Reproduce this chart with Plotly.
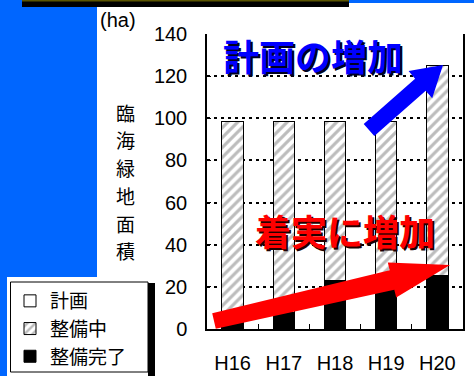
import plotly.graph_objects as go

# ---- data ----
years = ["H16", "H17", "H18", "H19", "H20"]
total_area = [98.5, 98.5, 98.5, 98.5, 125]      # top of each bar (ha)
completed = [3, 8, 23, 24, 25.5]                # 整備完了 (ha)
planned_extra = [0, 0, 0, 0, 0]                 # 計画 (no white part visible)
y_ticks = [0, 20, 40, 60, 80, 100, 120, 140]
y_title = "臨海緑地面積"

in_progress = [t - c for t, c in zip(total_area, completed)]

W, H = 474, 376
L, R, T, B = 207, 11, 34, 47
PW, PH = W - L - R, H - T - B


def px(x):
    return (x - L) / PW


def py(y):
    return (H - B - y) / PH


JP = "Noto Sans CJK JP"
NUM = "Liberation Sans"

fig = go.Figure()
fig.add_trace(go.Bar(
    x=years, y=completed, name="整備完了",
    marker=dict(color="black", line=dict(color="black", width=1)),
))
fig.add_trace(go.Bar(
    x=years, y=in_progress, name="整備中",
    marker=dict(color="white", line=dict(color="black", width=1),
                pattern=dict(shape="/", fgcolor="#7a7a7a", bgcolor="white",
                             size=7, solidity=0.45)),
))
fig.add_trace(go.Bar(
    x=years, y=planned_extra, name="計画",
    marker=dict(color="white", line=dict(color="black", width=1)),
))


def poly(points):
    d = "M " + " L ".join(f"{px(a):.5f},{py(b):.5f}" for a, b in points) + " Z"
    return d


shapes = [
    # blue background blocks
    dict(type="rect", xref="paper", yref="paper", x0=px(0), x1=px(97), y0=py(277), y1=py(0),
         fillcolor="#0066FF", line=dict(width=0), layer="below"),
    dict(type="rect", xref="paper", yref="paper", x0=px(0), x1=px(7), y0=py(376), y1=py(277),
         fillcolor="#0066FF", line=dict(width=0), layer="below"),
    dict(type="rect", xref="paper", yref="paper", x0=px(349), x1=px(474), y0=py(3), y1=py(0),
         fillcolor="#0066FF", line=dict(width=0), layer="below"),
    # black top bar
    dict(type="rect", xref="paper", yref="paper", x0=px(22), x1=px(349), y0=py(7), y1=py(0),
         fillcolor="black", line=dict(width=0), layer="below"),
    dict(type="rect", xref="paper", yref="paper", x0=px(22), x1=px(349), y0=py(1.5), y1=py(0),
         fillcolor="#5a5400", line=dict(width=0), layer="below"),
    # legend shadow + legend box
    dict(type="rect", xref="paper", yref="paper", x0=px(148), x1=px(155), y0=py(376), y1=py(283),
         fillcolor="black", line=dict(width=0), layer="above"),
    dict(type="rect", xref="paper", yref="paper", x0=px(10.5), x1=px(148), y0=py(372), y1=py(282),
         fillcolor="white", line=dict(width=1, color="black"), layer="above"),
    # blue arrow
    dict(type="path", xref="paper", yref="paper", layer="above",
         path=poly([(363.7, 124), (415.1, 78.7), (408.6, 71.1), (443, 65),
                    (432.2, 98.3), (425.7, 90.7), (374.3, 136)]),
         fillcolor="#0000FF", line=dict(width=0)),
    # red arrow
    dict(type="path", xref="paper", yref="paper", layer="above",
         path=poly([(212.2, 313.2), (389.7, 270.3), (387.8, 262.5), (450, 265),
                    (396.2, 297.5), (394.3, 289.7), (215.8, 328.8)]),
         fillcolor="#FF0000", line=dict(width=0)),
]

annotations = [
    dict(text="計画の増加", x=px(313), y=py(55), xref="paper", yref="paper",
         showarrow=False, xanchor="center", yanchor="middle",
         font=dict(family=JP, size=36, color="#0000FF", weight="bold",
                   shadow="2px 2px 0px #000020")),
    dict(text="着実に増加", x=px(345), y=py(230), xref="paper", yref="paper",
         showarrow=False, xanchor="center", yanchor="middle",
         font=dict(family=JP, size=36, color="#FF0000", weight="bold",
                   shadow="2px 2px 0px #200000")),
    dict(text="(ha)", x=px(118), y=py(20), xref="paper", yref="paper",
         showarrow=False, xanchor="center", yanchor="middle",
         font=dict(family=NUM, size=20, color="black")),
]
for i, ch in enumerate(y_title):
    annotations.append(dict(
        text=ch, x=px(125), y=py(112 + 27.8 * i), xref="paper", yref="paper",
        showarrow=False, xanchor="center", yanchor="middle",
        font=dict(family=JP, size=19, color="black")))

fig.update_layout(
    width=W, height=H,
    margin=dict(l=L, r=R, t=T, b=B, pad=0, autoexpand=False),
    paper_bgcolor="white", plot_bgcolor="white",
    barmode="stack", bargap=0.58,
    showlegend=True,
    legend=dict(x=px(10), y=py(282), xanchor="left", yanchor="top",
                bgcolor="rgba(0,0,0,0)", borderwidth=0,
                font=dict(family=JP, size=19, color="black"),
                traceorder="reversed", tracegroupgap=0, itemwidth=30),
    shapes=shapes, annotations=annotations,
    xaxis=dict(showline=True, linecolor="black", linewidth=1.5, mirror=False,
               ticks="inside", tickson="boundaries", ticklen=5, tickcolor="black",
               showgrid=False, tickfont=dict(family=NUM, size=20, color="black"),
               ticklabelstandoff=15, fixedrange=True),
    yaxis=dict(range=[0, 140], tickvals=y_ticks, showline=True, linecolor="black",
               linewidth=1.5, mirror=True, ticks="inside", ticklen=4, tickcolor="black",
               showgrid=True, gridcolor="black", griddash="3px,4px", gridwidth=2,
               zeroline=False, tickfont=dict(family=NUM, size=20, color="black"),
               ticklabelstandoff=14, fixedrange=True),
)

fig.write_html("out.html")
